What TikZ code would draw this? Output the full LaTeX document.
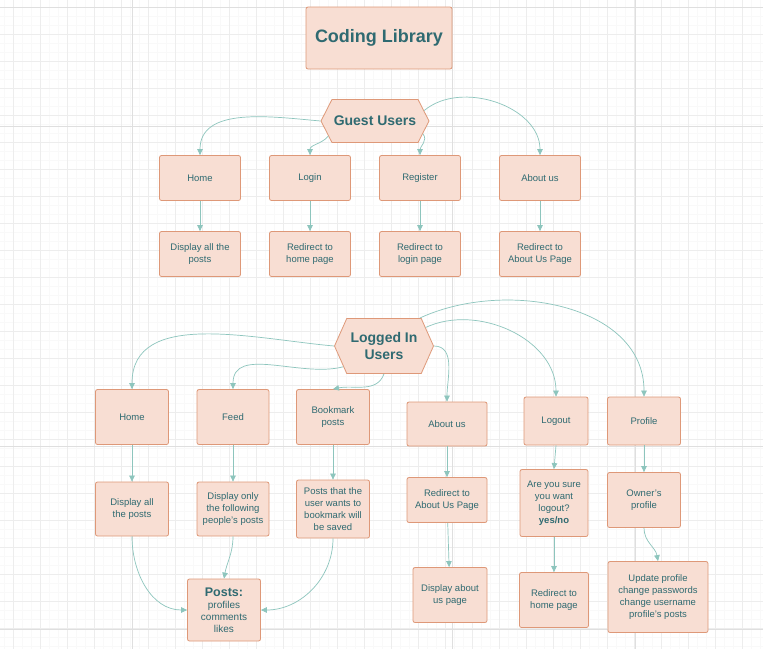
\documentclass[tikz,border=0pt]{standalone}
\usepackage{fontspec}
\setmainfont{Liberation Sans}
\usetikzlibrary{shapes.symbols,arrows.meta}
\definecolor{boxfill}{HTML}{F8DED3}
\definecolor{boxline}{HTML}{DE9878}
\definecolor{ink}{HTML}{2F6A71}
\definecolor{arrowc}{HTML}{8DC5BD}
\definecolor{gridc}{HTML}{E6E6E6}
\begin{document}
\begin{tikzpicture}[x=1pt, y=-1pt,
    box/.style={draw=boxline, line width=0.8pt, fill=boxfill, rounded corners=2pt, text=ink, align=center, inner sep=1pt, font=\fontsize{9.5}{12}\selectfont},
    sz/.style 2 args={minimum width=#1, minimum height=#2},
    hexa/.style={signal, signal to=west and east, draw=boxline, line width=0.8pt, fill=boxfill, text=ink, align=center, inner sep=1pt, font=\fontsize{14}{17}\selectfont\bfseries},
    conn/.style={draw=arrowc, line width=0.7pt, -{Triangle[width=5.5pt,length=6pt]}}]
      \useasboundingbox[fill=white] (0,0) rectangle (763,649);
      \foreach \x in {4,13,22,...,763} \draw[gridc!25, line width=0.4pt] (\x,0) -- (\x,649);
      \foreach \y in {7,16,...,649} \draw[gridc!25, line width=0.4pt] (0,\y) -- (763,\y);
      \foreach \x in {13,40,...,763} \draw[gridc!70, line width=0.5pt] (\x,0) -- (\x,649);
      \foreach \y in {7,34,...,649} \draw[gridc!70, line width=0.5pt] (0,\y) -- (763,\y);
      \foreach \x in {132,452,635} \draw[gridc!130, line width=0.6pt] (\x,0) -- (\x,649);
      \foreach \y in {7,126,446,629} \draw[gridc!130, line width=0.6pt] (0,\y) -- (763,\y);

      \node[box, sz={146}{62}, font=\fontsize{18}{22}\selectfont\bfseries] (title) at (379,38) {Coding Library};

      \node[hexa, sz={108}{43}, signal pointer angle=126] (guest) at (375,121) {Guest Users};
      \node[box, sz={81}{45}] (ghome) at (200,178) {Home};
      \node[box, sz={81}{45}] (glogin) at (310,178) {Login};
      \node[box, sz={81}{45}] (greg) at (420,178) {Register};
      \node[box, sz={81}{45}] (gabout) at (540,178) {About us};
      \node[box, sz={81}{45}] (gposts) at (200,254) {Display all the\\posts};
      \node[box, sz={81}{45}] (ghomepg) at (310,254) {Redirect to\\home page};
      \node[box, sz={81}{45}] (gloginpg) at (420,254) {Redirect to\\login page};
      \node[box, sz={81}{45}] (gaboutpg) at (540,254) {Redirect to\\About Us Page};

      \node[hexa, sz={99}{55}, signal pointer angle=132] (user) at (384,346) {Logged In\\Users};
      \node[box, sz={73}{55}] (uhome) at (132,417) {Home};
      \node[box, sz={72}{55}] (ufeed) at (233,417) {Feed};
      \node[box, sz={73}{55}] (ubook) at (333,417) {Bookmark\\posts};
      \node[box, sz={80}{44}] (uabout) at (447,424) {About us};
      \node[box, sz={64}{48}] (uout) at (556,421) {Logout};
      \node[box, sz={73}{48}] (uprof) at (644,421) {Profile};

      \node[box, sz={73}{54}] (uall) at (132,509) {Display all\\the posts};
      \node[box, sz={72}{54}] (uonly) at (233,509) {Display only\\the following\\people’s posts};
      \node[box, sz={73}{58}] (usaved) at (333,509) {Posts that the\\user wants to\\bookmark will\\be saved};
      \node[box, sz={80}{45}] (uaboutpg) at (447,500) {Redirect to\\About Us Page};
      \node[box, sz={68}{67}] (usure) at (554,503) {Are you sure\\you want\\logout?\\\textbf{yes/no}};
      \node[box, sz={73}{55}] (uowner) at (644,500) {Owner’s\\profile};

      \node[box, sz={73}{62}, font=\fontsize{10}{12}\selectfont] (posts) at (224,610) {{\fontsize{12.5}{14}\selectfont\bfseries Posts:}\\profiles\\comments\\likes};
      \node[box, sz={74}{55}] (uaboutus) at (450,595) {Display about\\us page};
      \node[box, sz={69}{55}] (uhomepg) at (554,600) {Redirect to\\home page};
      \node[box, sz={100}{71}] (uupdate) at (658,597) {Update profile\\change passwords\\change username\\profile’s posts};

      \draw[conn] (guest.west) to[out=175,in=90] (ghome.north);
      \draw[conn] (guest.198) to[out=230,in=90] (glogin.north);
      \draw[conn] (guest.-15) to[out=-50,in=90] (greg.north);
      \draw[conn] (guest.12) to[out=40,in=90] (gabout.north);
      \draw[conn] (ghome) -- (gposts);
      \draw[conn] (glogin) -- (ghomepg);
      \draw[conn] (greg) -- (gloginpg);
      \draw[conn] (gabout) -- (gaboutpg);

      \draw[conn] (user.west) to[out=175,in=90] (uhome.north);
      \draw[conn] (user.207) to[out=195,in=90] (ufeed.north);
      \draw[conn] (user.south) to[out=-110,in=12] (ubook.north);
      \draw[conn] (user.east) to[out=0,in=90] (uabout.north);
      \draw[conn] (user.24) to[out=25,in=90] (uout.north);
      \draw[conn] (user.38) to[out=25,in=90] (uprof.north);
      \draw[conn] (uhome) -- (uall);
      \draw[conn] (ufeed) -- (uonly);
      \draw[conn] (ubook) -- (usaved);
      \draw[conn] (uabout) -- (uaboutpg);
      \draw[conn] (uout.south) -- (usure.north);
      \draw[conn] (uprof) -- (uowner);

      \draw[conn] (uall.south) to[out=-90,in=180] (posts.west);
      \draw[conn] (uonly.south) to[out=-90,in=80] (posts.north);
      \draw[conn] (usaved.south) to[out=-90,in=0] (posts.east);
      \draw[conn] (uaboutpg) -- (uaboutus);
      \draw[conn] (usure) -- (uhomepg);
      \draw[conn] (uowner.south) to[out=-90,in=100] (uupdate.north);
\end{tikzpicture}
\end{document}
